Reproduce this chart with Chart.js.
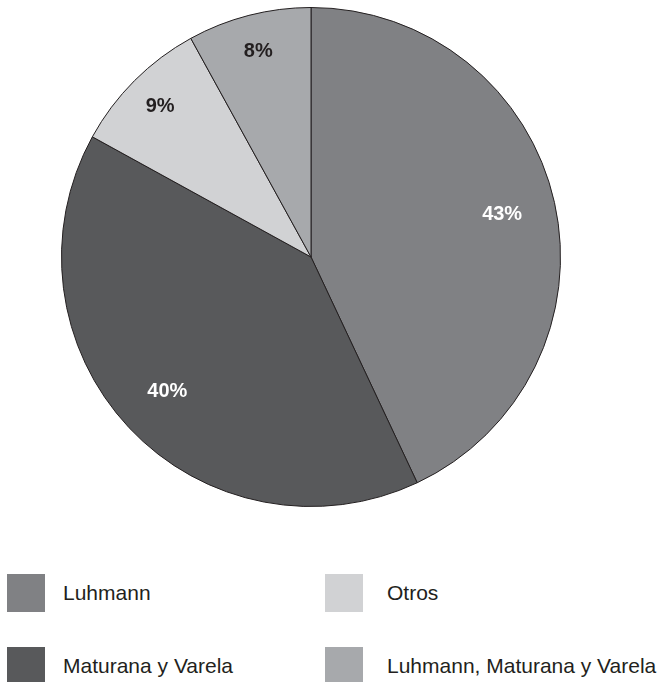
<!DOCTYPE html>
<html>
<head>
<meta charset="utf-8">
<script src="https://cdn.jsdelivr.net/npm/chart.js@4.4.1/dist/chart.umd.min.js"></script>
<style>
  body { margin: 0; background: #fff; font-family: "Liberation Sans", Arial, sans-serif; }
  #wrap { position: relative; width: 661px; height: 682px; overflow: hidden; }
  #chartBox { position: absolute; left: 0; top: 0; width: 661px; height: 520px; }
  .key { position: absolute; width: 38px; height: 38px; }
  .keyText { position: absolute; font-size: 21px; color: #231f20; line-height: 38px; white-space: nowrap; }
</style>
</head>
<body>
<div id="wrap">
  <div id="chartBox"><canvas id="pie"></canvas></div>
  <div id="legend"></div>
</div>
<script>
const labels = ['Luhmann', 'Maturana y Varela', 'Otros', 'Luhmann, Maturana y Varela'];
const shares = [43, 40, 9, 8];
const sliceColors = ['#808184', '#58595b', '#d1d2d4', '#a7a9ac'];
const labelColors = ['#ffffff', '#ffffff', '#231f20', '#231f20'];

// percentage text sits near the rim, a bit further out on the thin slices
const labelReach = [0.785, 0.79, 0.855, 0.85];

const percentLabels = {
    id: 'percentLabels',
    afterDatasetsDraw(chart) {
        const ctx = chart.ctx;
        const meta = chart.getDatasetMeta(0);
        ctx.save();
        ctx.font = 'bold 20px "Liberation Sans", Arial, sans-serif';
        ctx.textAlign = 'center';
        ctx.textBaseline = 'middle';
        meta.data.forEach((arc, i) => {
            const mid = (arc.startAngle + arc.endAngle) / 2;
            const r = arc.outerRadius * labelReach[i];
            ctx.fillStyle = labelColors[i];
            ctx.fillText(shares[i] + '%', arc.x + Math.cos(mid) * r, arc.y + Math.sin(mid) * r);
        });
        ctx.restore();
    }
};

new Chart(document.getElementById('pie'), {
    type: 'pie',
    data: {
        labels: labels,
        datasets: [{
            data: shares,
            backgroundColor: sliceColors,
            borderColor: '#231f20',
            borderWidth: 1,
            hoverOffset: 0,
            offset: 0
        }]
    },
    options: {
        responsive: true,
        maintainAspectRatio: false,
        animation: false,
        events: [],
        layout: { padding: { left: 61, right: 100, top: 7, bottom: 13 } },
        plugins: {
            legend: { display: false },
            tooltip: { enabled: false }
        }
    },
    plugins: [percentLabels]
});

// two-column legend, filled top to bottom
const legend = document.getElementById('legend');
const keyLeft = [7, 325];
const textLeft = [63, 387];
const rowTop = [574, 647];
labels.forEach((name, i) => {
    const col = Math.floor(i / 2);
    const row = i % 2;
    const key = document.createElement('div');
    key.className = 'key';
    key.style.left = keyLeft[col] + 'px';
    key.style.top = rowTop[row] + 'px';
    key.style.background = sliceColors[i];
    legend.appendChild(key);
    const txt = document.createElement('div');
    txt.className = 'keyText';
    txt.style.left = textLeft[col] + 'px';
    txt.style.top = rowTop[row] + 'px';
    txt.textContent = name;
    legend.appendChild(txt);
});
</script>
</body>
</html>
